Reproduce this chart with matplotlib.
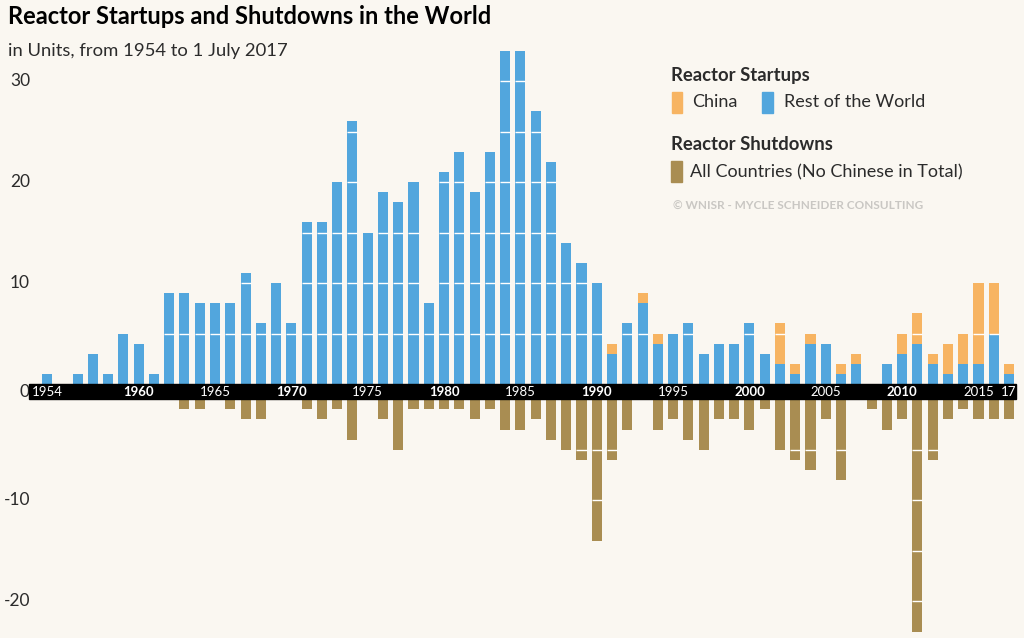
import numpy as np
import matplotlib
matplotlib.use("Agg")
import matplotlib.pyplot as plt
from matplotlib.patches import Rectangle

plt.rcParams['font.family'] = ['Lato', 'DejaVu Sans']

years = list(range(1954, 2018))

# startups outside China, per year 1954..2017
rest_of_world = [1, 0, 1, 3, 1, 5, 4, 1, 9, 9,
                 8, 8, 8, 11, 6, 10, 6, 16, 16, 20,
                 26, 15, 19, 18, 20, 8, 21, 23, 19, 23,
                 33, 33, 27, 22, 14, 12, 10, 3, 6, 8,
                 4, 5, 6, 3, 4, 4, 6, 3, 2, 1,
                 4, 4, 1, 2, 0, 2, 3, 4, 2, 1,
                 2, 2, 5, 1]

china = [0, 0, 0, 0, 0, 0, 0, 0, 0, 0,
         0, 0, 0, 0, 0, 0, 0, 0, 0, 0,
         0, 0, 0, 0, 0, 0, 0, 0, 0, 0,
         0, 0, 0, 0, 0, 0, 0, 1, 0, 1,
         1, 0, 0, 0, 0, 0, 0, 0, 4, 1,
         1, 0, 1, 1, 0, 0, 2, 3, 1, 3,
         3, 8, 5, 1]

shutdowns = [0, 0, 0, 0, 0, 0, 0, 0, 0, 1,
             1, 0, 1, 2, 2, 0, 0, 1, 2, 1,
             4, 0, 2, 5, 1, 1, 1, 1, 2, 1,
             3, 3, 2, 4, 5, 6, 14, 6, 3, 0,
             3, 2, 4, 5, 2, 2, 3, 1, 5, 6,
             7, 2, 8, 0, 1, 3, 2, 23, 6, 2,
             1, 2, 2, 2]

year_labels = {1954: '1954', 1960: '1960', 1965: '1965', 1970: '1970',
               1975: '1975', 1980: '1980', 1985: '1985', 1990: '1990',
               1995: '1995', 2000: '2000', 2005: '2005', 2010: '2010',
               2015: '2015', 2017: '17'}
y_ticks = [30, 20, 10, 0, -10, -20]

BLUE = '#52a6dd'
ORANGE = '#f7b462'
BROWN = '#a98d52'
BG = '#faf7f1'
TXT = '#2b2b2b'

g = 0.75  # half height of the black zero band, in units

fig = plt.figure(figsize=(10.24, 6.38), dpi=100, facecolor=BG)
ax = fig.add_axes([0, 0, 1, 1])
ax.set_facecolor(BG)
ax.set_xlim(1950.92, 2017.98)
ax.set_ylim(-g - 23.63, g + 38.02)
ax.axis('off')

yrs = np.array(years)
row = np.array(rest_of_world)
chn = np.array(china)
shd = np.array(shutdowns)

w = 0.66
ax.bar(yrs, row, bottom=g, width=w, color=BLUE, zorder=2)
ax.bar(yrs, chn, bottom=g + row, width=w, color=ORANGE, zorder=2)
ax.bar(yrs, -shd, bottom=-g, width=w, color=BROWN, zorder=2)

# white grid lines, only visible across the bars
tot = row + chn
for x, up, dn in zip(yrs, tot, shd):
    for k in range(5, 40, 5):
        if k < up:
            ax.hlines(g + k, x - w / 2, x + w / 2, color='white', lw=1.0, zorder=3)
        if k < dn:
            ax.hlines(-g - k, x - w / 2, x + w / 2, color='white', lw=1.0, zorder=3)

# black zero band
ax.add_patch(Rectangle((yrs[0] - 1.18, -g), (yrs[-1] + 0.47) - (yrs[0] - 1.18), 2 * g,
                       color='black', zorder=4))
for yr, lab in year_labels.items():
    bold = yr % 10 == 0
    ax.text(yr, 0, lab, color='white', fontsize=9.5, ha='center', va='center',
            fontweight='bold' if bold else 'normal', zorder=5)

# y labels
trans = ax.get_yaxis_transform()
for t in y_ticks:
    if t > 0:
        yv = g + t
    elif t < 0:
        yv = -g + t
    else:
        yv = 0
    ax.text(30 / 1024, yv, str(t), transform=trans, ha='right', va='center',
            fontsize=12.5, color=TXT)

def ftext(x, y, s, **kw):
    fig.text(x / 1024, 1 - y / 638, s, **kw)

ftext(8, 17, 'Reactor Startups and Shutdowns in the World', fontsize=17,
      fontweight='bold', color='black', va='center')
ftext(8, 51, 'in Units, from 1954 to 1 July 2017', fontsize=13.3, color=TXT, va='center')

# legend
ftext(671, 75, 'Reactor Startups', fontsize=13.3, fontweight='bold', color=TXT, va='center')
fig.patches.append(Rectangle((672 / 1024, 1 - 113 / 638), 10 / 1024, 21 / 638,
                             transform=fig.transFigure, color=ORANGE))
ftext(692, 102, 'China', fontsize=13, color=TXT, va='center')
fig.patches.append(Rectangle((762 / 1024, 1 - 113 / 638), 11 / 1024, 21 / 638,
                             transform=fig.transFigure, color=BLUE))
ftext(784, 102, 'Rest of the World', fontsize=13, color=TXT, va='center')

ftext(671, 145, 'Reactor Shutdowns', fontsize=13.3, fontweight='bold', color=TXT, va='center')
fig.patches.append(Rectangle((671 / 1024, 1 - 182 / 638), 11 / 1024, 21 / 638,
                             transform=fig.transFigure, color=BROWN))
ftext(690, 172, 'All Countries (No Chinese in Total)', fontsize=13, color=TXT, va='center')

ftext(673, 206, '© WNISR - MYCLE SCHNEIDER CONSULTING', fontsize=8.5, color='#c9c7c3',
      fontweight='bold', va='center')

fig.savefig('out.png', dpi=100, facecolor=BG)
